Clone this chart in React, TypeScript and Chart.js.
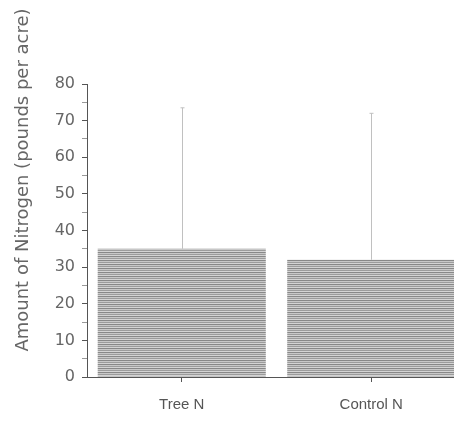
import React, { useEffect, useRef } from "react";
import { Chart, registerables } from "chart.js";

Chart.register(...registerables);

const categories: string[] = ["Tree N", "Control N"];
const meanValues: number[] = [35, 32];
const upperErrorValues: number[] = [73.5, 72];
const yTitle = "Amount of Nitrogen (pounds per acre)";
const yMin = 0;
const yMax = 80;
const yStep = 5;

function makePattern(): CanvasPattern | string {
  const c = document.createElement("canvas");
  c.width = 6;
  c.height = 4;
  const g = c.getContext("2d");
  if (!g) return "#a0a0a0";
  const rows = ["#888888", "#c8c8c8", "#9c9c9c", "#d4d4d4"];
  rows.forEach((col, i) => {
    g.fillStyle = col;
    g.fillRect(0, i, 6, 1);
  });
  const p = g.createPattern(c, "repeat");
  return p || "#a0a0a0";
}

const errorBarPlugin = {
  id: "errorBars",
  afterDatasetsDraw(chart: any) {
    const ctx = chart.ctx;
    const meta = chart.getDatasetMeta(0);
    const yScale = chart.scales.y;
    ctx.save();
    ctx.strokeStyle = "#c0c0c0";
    ctx.lineWidth = 1;
    meta.data.forEach((bar: any, i: number) => {
      const x = Math.round(bar.x) + 0.5;
      const yTop = yScale.getPixelForValue(upperErrorValues[i]);
      ctx.beginPath();
      ctx.moveTo(x, bar.y);
      ctx.lineTo(x, yTop);
      ctx.moveTo(x - 2, yTop);
      ctx.lineTo(x + 2, yTop);
      ctx.stroke();
    });
    ctx.restore();
  },
};

const yTitlePlugin = {
  id: "yTitleCustom",
  afterDraw(chart: any) {
    const ctx = chart.ctx;
    ctx.save();
    ctx.translate(23, 180);
    ctx.rotate(-Math.PI / 2);
    ctx.font = "18px 'DejaVu Sans', sans-serif";
    ctx.fillStyle = "#666";
    ctx.textAlign = "center";
    ctx.textBaseline = "middle";
    ctx.fillText(yTitle, 0, 0);
    ctx.restore();
  },
};

export default function App() {
  const ref = useRef<HTMLCanvasElement | null>(null);

  useEffect(() => {
    if (!ref.current) return;
    const chart = new Chart(ref.current, {
      type: "bar",
      data: {
        labels: categories,
        datasets: [
          {
            data: meanValues,
            backgroundColor: makePattern() as any,
            borderWidth: 0,
            barPercentage: 0.887,
            categoryPercentage: 1,
          },
        ],
      },
      options: {
        responsive: false,
        animation: false,
        layout: { padding: { top: 84, right: 0, left: 0, bottom: 0 } },
        plugins: {
          legend: { display: false },
          tooltip: { enabled: false },
        },
        scales: {
          x: {
            afterFit: (s: any) => {
              s.height = 44;
            },
            grid: {
              display: true,
              drawOnChartArea: false,
              offset: false,
              tickLength: 5,
              tickColor: "#555",
            },
            border: { display: true, color: "#555", width: 1 },
            ticks: {
              padding: 14,
              color: "#555",
              font: { family: "'Liberation Sans Narrow', 'Liberation Sans', Arial, sans-serif", size: 15 },
            },
          },
          y: {
            min: yMin,
            max: yMax,
            afterFit: (s: any) => {
              s.width = 87;
            },
            grid: {
              display: true,
              drawOnChartArea: false,
              tickLength: 5,
              tickColor: (c: any) => (c.tick && c.tick.value % 10 === 0 ? "#555" : "#999"),
            },
            border: { display: true, color: "#555", width: 1 },
            ticks: {
              stepSize: yStep,
              padding: 7,
              color: "#666",
              autoSkip: false,
              font: { family: "'DejaVu Sans', sans-serif", size: 16 },
              callback: (v: any) => (Number(v) % 10 === 0 ? String(v) : ""),
            },
          },
        },
      },
      plugins: [errorBarPlugin, yTitlePlugin],
    });
    return () => chart.destroy();
  }, []);

  return (
    <div style={{ position: "absolute", left: 0, top: 0, width: 454, height: 421, overflow: "hidden", background: "#fff" }}>
      <canvas ref={ref} width={466} height={421} style={{ display: "block" }} />
    </div>
  );
}
